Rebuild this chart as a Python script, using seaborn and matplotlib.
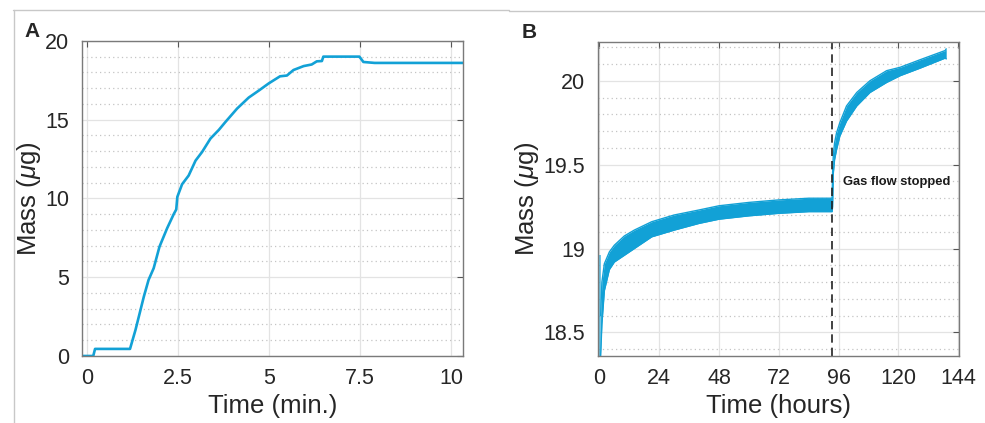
import numpy as np
import pandas as pd
import matplotlib
matplotlib.use("Agg")
import matplotlib.pyplot as plt
import seaborn as sns
from matplotlib.lines import Line2D
from matplotlib.ticker import MultipleLocator

# Panel A: mass uptake during the first minutes
time_a = [-0.14, 0.17, 0.22, 1.18, 1.33, 1.56, 1.69, 1.83, 1.99, 2.20, 2.38, 2.45,
          2.48, 2.61, 2.79, 2.98, 3.16, 3.39, 3.62, 3.80, 4.12, 4.44, 4.72, 4.99,
          5.30, 5.49, 5.67, 5.95, 6.17, 6.31, 6.45, 6.49, 7.48, 7.59, 7.90, 10.33]
mass_a = [0.0, 0.0, 0.45, 0.45, 1.65, 3.77, 4.83, 5.57, 6.94, 8.11, 9.0, 9.3,
          10.1, 10.9, 11.45, 12.4, 12.95, 13.8, 14.35, 14.85, 15.7, 16.4, 16.85, 17.3,
          17.75, 17.8, 18.15, 18.4, 18.5, 18.7, 18.72, 19.0, 19.0, 18.66, 18.6, 18.6]

# Panel B: noisy band (lower / upper envelope) over hours
time_b = [0.5, 1.0, 2.0, 4.0, 6.0, 10, 14, 21, 30, 40, 48, 60, 72, 84, 93.4,
          93.6, 93.9, 94.4, 95.2, 96.5, 99.2, 103.3, 108.6, 115.3, 120.7, 128.7, 138.8, 139.2]
mass_b_low = [18.36, 18.55, 18.75, 18.875, 18.92, 18.96, 19.0, 19.07, 19.11, 19.15, 19.175,
              19.195, 19.21, 19.22, 19.22,
              19.25, 19.45, 19.53, 19.59, 19.67, 19.76, 19.85, 19.93, 19.99, 20.03, 20.075,
              20.135, 20.13]
mass_b_high = [18.60, 18.80, 18.91, 18.98, 19.02, 19.075, 19.11, 19.16, 19.20, 19.23, 19.255,
               19.275, 19.29, 19.30, 19.30,
               19.45, 19.56, 19.63, 19.69, 19.75, 19.85, 19.93, 20.0, 20.06, 20.08, 20.125,
               20.18, 20.19]
spike_t = 0.3
spike_m = [18.36, 18.96]
gas_stop_t = 93.5

blue = "#12a1d6"

sns.set_style("whitegrid")
plt.rcParams["font.family"] = ["Liberation Sans", "DejaVu Sans"]
plt.rcParams["mathtext.fontset"] = "custom"
plt.rcParams["mathtext.it"] = "Liberation Sans:italic"
plt.rcParams["mathtext.rm"] = "Liberation Sans"

fig = plt.figure(figsize=(9.85, 4.23), dpi=100)
ax_a = fig.add_axes([0.0832, 0.1584, 0.387, 0.745])
ax_b = fig.add_axes([0.607, 0.1584, 0.3665, 0.742])

df_a = pd.DataFrame({"t": time_a, "m": mass_a})
sns.lineplot(data=df_a, x="t", y="m", ax=ax_a, color=blue, lw=1.9,
             estimator=None, sort=False)

df_b = pd.DataFrame({"t": time_b, "lo": mass_b_low, "hi": mass_b_high})
ax_b.fill_between(df_b["t"], df_b["lo"], df_b["hi"], color=blue, lw=0)
sns.lineplot(data=df_b, x="t", y="lo", ax=ax_b, color=blue, lw=1.0, estimator=None)
sns.lineplot(data=df_b, x="t", y="hi", ax=ax_b, color=blue, lw=1.0, estimator=None)
ax_b.vlines(spike_t, spike_m[0], spike_m[1], color=blue, lw=1.2, alpha=0.7)
ax_b.axvline(gas_stop_t, color="#222222", lw=1.2, ls=(0, (5, 3)))
ax_b.text(97.9, 19.395, "Gas flow stopped", fontsize=9.3, fontweight="bold",
          va="center", ha="left", color="#1a1a1a")

ax_a.set_xlim(-0.14, 10.33)
ax_a.set_ylim(0, 20)
ax_a.set_xticks([0, 2.5, 5, 7.5, 10])
ax_a.set_xticklabels(["0", "2.5", "5", "7.5", "10"])
ax_a.set_yticks([0, 5, 10, 15, 20])
ax_a.yaxis.set_minor_locator(MultipleLocator(1))
ax_a.set_xlabel("Time (min.)")
ax_a.set_ylabel(r"Mass ($\mu$g)")

ax_b.set_xlim(-0.6, 144.3)
ax_b.set_ylim(18.36, 20.23)
ax_b.set_xticks([0, 24, 48, 72, 96, 120, 144])
ax_b.set_yticks([18.5, 19, 19.5, 20])
ax_b.set_yticklabels(["18.5", "19", "19.5", "20"])
ax_b.yaxis.set_minor_locator(MultipleLocator(0.1))
ax_b.set_xlabel("Time (hours)")
ax_b.set_ylabel(r"Mass ($\mu$g)")

for ax in (ax_a, ax_b):
    ax.grid(which="major", color="#e3e3e3", lw=0.9, ls="-")
    ax.grid(which="minor", axis="y", color="#c4c4c4", lw=0.9, ls=(0, (1, 2.5)))
    ax.grid(which="minor", axis="x", visible=False)
    ax.set_axisbelow(True)
    ax.tick_params(which="major", direction="in", length=4, width=0.8, color="#555555",
                   top=True, right=True, labelsize=15.5, labelcolor="#262626", pad=9)
    ax.tick_params(which="minor", length=0)
    ax.xaxis.label.set_size(18.5)
    ax.yaxis.label.set_size(18.5)
    ax.xaxis.label.set_color("#262626")
    ax.yaxis.label.set_color("#262626")
    for s in ax.spines.values():
        s.set_color("#7a7a7a")
        s.set_linewidth(1.0)
    ax.xaxis.labelpad = 3
    ax.yaxis.labelpad = 2

fig.text(0.0325, 0.925, "A", fontsize=15, fontweight="bold", ha="center", va="center")
fig.text(0.537, 0.924, "B", fontsize=15, fontweight="bold", ha="center", va="center")

# thin frame lines of the original figure
fig.add_artist(Line2D([13 / 985, 509 / 985], [1 - 10.5 / 423] * 2, color="#c8c8c8", lw=1))
fig.add_artist(Line2D([509 / 985, 1.0], [1 - 11.5 / 423] * 2, color="#c8c8c8", lw=1))
fig.add_artist(Line2D([13.5 / 985] * 2, [0, 1 - 10.5 / 423], color="#c8c8c8", lw=1))

fig.savefig("out.png", dpi=100)
